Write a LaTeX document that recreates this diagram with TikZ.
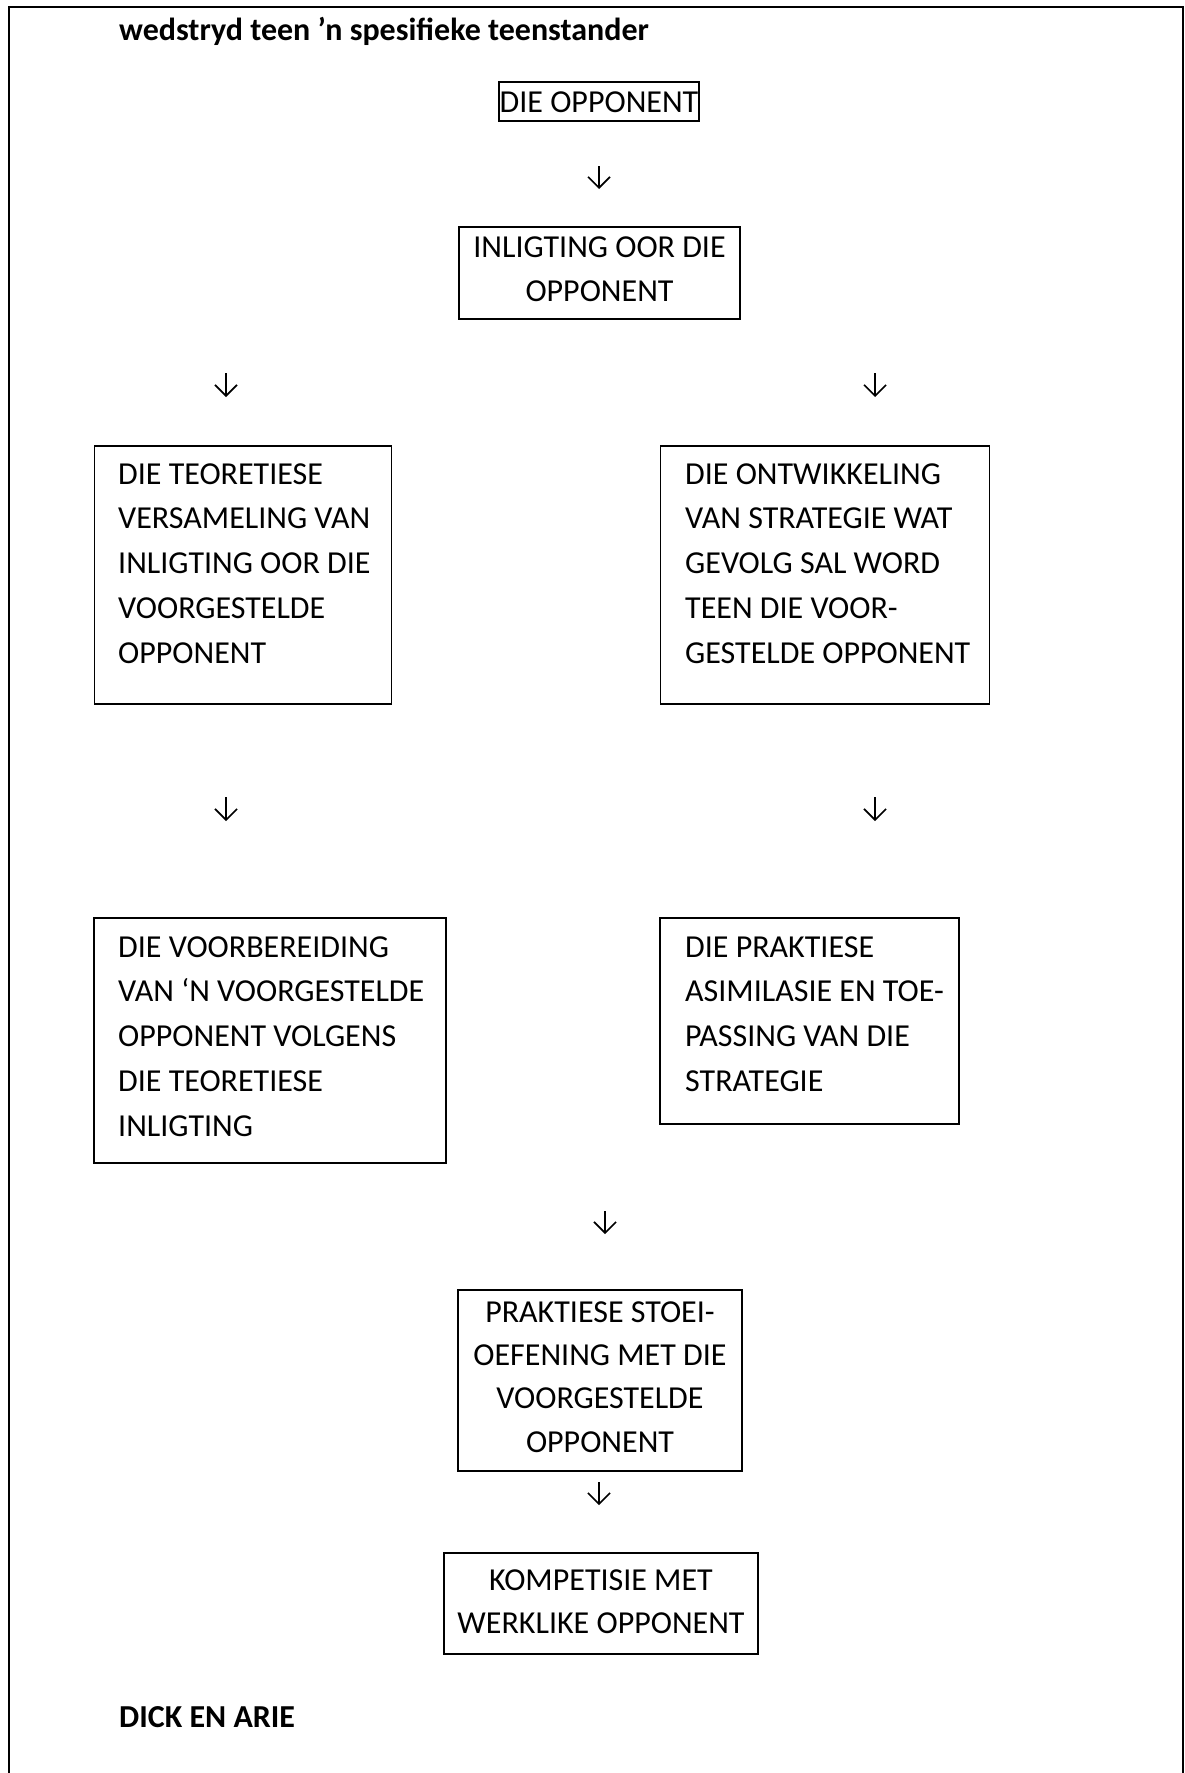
\documentclass[tikz,border=0pt]{standalone}
\usepackage{fontspec}
\setmainfont{Carlito}
\usetikzlibrary{arrows.meta}
\newcommand{\bodyfont}{\fontsize{32}{44}\selectfont}
\tikzset{
  boxshape/.style={draw=black, line width=1.8pt, inner sep=0pt, fill=none},
  txt/.style={inner sep=0pt, anchor=base west, font=\bodyfont},
  ctxt/.style={inner sep=0pt, anchor=base, font=\bodyfont},
  arr/.style={line width=1.6pt, -{Straight Barb[length=11pt,width=22pt,line width=1.6pt]}},
  frame/.style={line width=2pt}
}
\begin{document}
\begin{tikzpicture}[x=1pt,y=-1pt]
\useasboundingbox (0,0) rectangle (1184,1773);
% frame
\draw[frame] (9,1773) -- (9,7) -- (1183,7) -- (1183,1773);

% title and footer
\node[txt, font=\fontsize{32}{44}\selectfont\bfseries] (title) at (119,40) {wedstryd teen ’n spesifieke teenstander};
\node[txt, font=\fontsize{32}{44}\selectfont\bfseries] (foot) at (119,1727) {DICK EN ARIE};

% box: DIE OPPONENT
\node[boxshape, minimum width=200pt, minimum height=39pt] (b0) at (599,101.5) {};
\node[ctxt] (t0) at (599,112.5) {DIE OPPONENT};

% box: INLIGTING OOR DIE OPPONENT
\node[boxshape, minimum width=281pt, minimum height=92pt] (b1) at (599.5,273) {};
\node[ctxt] (t1) at (599.5,257) {\begin{tabular}[t]{@{}c@{}}INLIGTING OOR DIE\\OPPONENT\end{tabular}};

% left box 1
\node[boxshape, minimum width=297pt, minimum height=258pt] (bl1) at (243,575) {};
\node[txt] (tl1) at (118,484) {\renewcommand{\arraystretch}{1.018}\begin{tabular}[t]{@{}l@{}}DIE TEORETIESE\\VERSAMELING VAN\\INLIGTING OOR DIE\\VOORGESTELDE\\OPPONENT\end{tabular}};

% right box 1
\node[boxshape, minimum width=329pt, minimum height=258pt] (br1) at (825,575) {};
\node[txt] (tr1) at (685,484) {\renewcommand{\arraystretch}{1.018}\begin{tabular}[t]{@{}l@{}}DIE ONTWIKKELING\\VAN STRATEGIE WAT\\GEVOLG SAL WORD\\TEEN DIE VOOR-\\GESTELDE OPPONENT\end{tabular}};

% left box 2
\node[boxshape, minimum width=352pt, minimum height=245pt] (bl2) at (270,1040.5) {};
\node[txt] (tl2) at (118,957) {\renewcommand{\arraystretch}{1.018}\begin{tabular}[t]{@{}l@{}}DIE VOORBEREIDING\\VAN ‘N VOORGESTELDE\\OPPONENT VOLGENS\\DIE TEORETIESE\\INLIGTING\end{tabular}};

% right box 2
\node[boxshape, minimum width=299pt, minimum height=206pt] (br2) at (809.5,1021) {};
\node[txt] (tr2) at (685,957) {\renewcommand{\arraystretch}{1.018}\begin{tabular}[t]{@{}l@{}}DIE PRAKTIESE\\ASIMILASIE EN TOE-\\PASSING VAN DIE\\STRATEGIE\end{tabular}};

% center box 3
\node[boxshape, minimum width=284pt, minimum height=181pt] (b3) at (600,1380.5) {};
\node[ctxt] (t3) at (600,1322) {\renewcommand{\arraystretch}{0.985}\begin{tabular}[t]{@{}c@{}}PRAKTIESE STOEI-\\OEFENING MET DIE\\VOORGESTELDE\\OPPONENT\end{tabular}};

% box 4
\node[boxshape, minimum width=314pt, minimum height=101pt] (b4) at (601,1603.5) {};
\node[ctxt] (t4) at (601,1590) {\renewcommand{\arraystretch}{0.985}\begin{tabular}[t]{@{}c@{}}KOMPETISIE MET\\WERKLIKE OPPONENT\end{tabular}};

% arrows
\coordinate (a1s) at (599,166);  \coordinate (a1e) at (599,189);
\coordinate (a2s) at (226,373);  \coordinate (a2e) at (226,397);
\coordinate (a3s) at (875,373);  \coordinate (a3e) at (875,397);
\coordinate (a4s) at (226,797);  \coordinate (a4e) at (226,821);
\coordinate (a5s) at (875,797);  \coordinate (a5e) at (875,821);
\coordinate (a6s) at (605,1211); \coordinate (a6e) at (605,1234);
\coordinate (a7s) at (599,1482); \coordinate (a7e) at (599,1505);
\foreach \i in {1,...,7} { \draw[arr] (a\i s) -- (a\i e); }
\end{tikzpicture}
\end{document}
